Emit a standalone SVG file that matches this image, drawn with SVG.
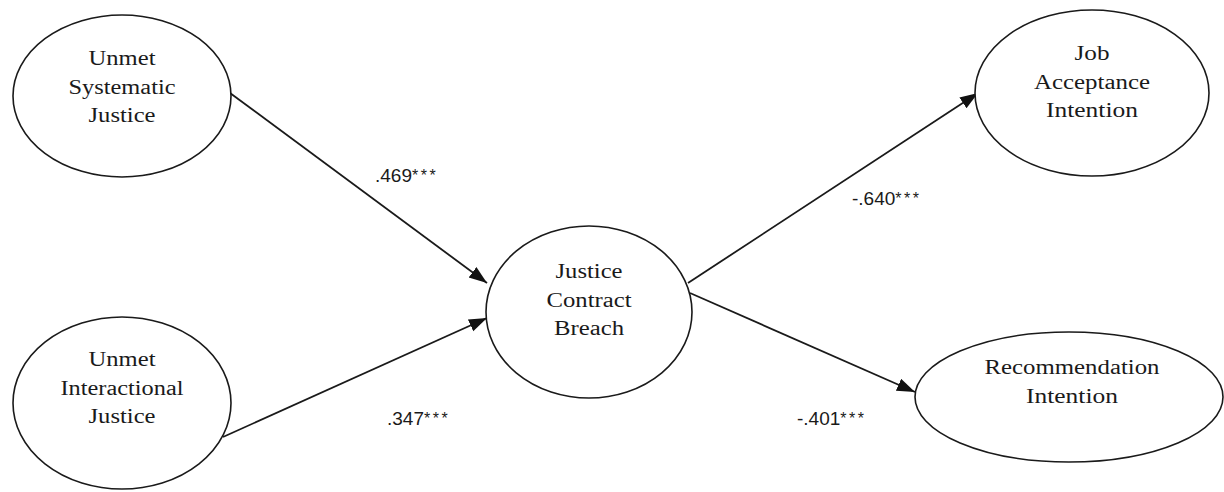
<svg xmlns="http://www.w3.org/2000/svg" width="1224" height="492" viewBox="0 0 1224 492">
<defs>
<style>
.node ellipse{fill:#fff;stroke:#1a1a1a;stroke-width:1.6}
.node text{font-family:"Liberation Serif","Times New Roman",serif;font-size:20px;fill:#1a1a1a;text-anchor:middle}
.conn line{stroke:#1a1a1a;stroke-width:1.8}
.lbl{font-family:"Liberation Sans",Arial,sans-serif;font-size:19px;fill:#1a1a1a}
.ast{font-size:16px;letter-spacing:2.5px}
</style>
<marker id="ah" markerUnits="userSpaceOnUse" markerWidth="20" markerHeight="14" refX="18" refY="6.5" orient="auto">
<path d="M0,0 L18,6.5 L0,13 z" fill="#111"/>
</marker>
</defs>
<rect width="1224" height="492" fill="#fff"/>
<g id="connectors" class="conn">
<line x1="230" y1="93" x2="487" y2="283" marker-end="url(#ah)"/>
<line x1="223" y1="437" x2="487" y2="318" marker-end="url(#ah)"/>
<line x1="688" y1="283" x2="978" y2="93" marker-end="url(#ah)"/>
<line x1="690" y1="293" x2="915" y2="392" marker-end="url(#ah)"/>
</g>
<g id="n1" class="node">
<ellipse cx="122" cy="96" rx="109" ry="81"/>
<text x="122" y="65" textLength="67" lengthAdjust="spacingAndGlyphs">Unmet</text>
<text x="122" y="94" textLength="107" lengthAdjust="spacingAndGlyphs">Systematic</text>
<text x="122" y="122" textLength="67" lengthAdjust="spacingAndGlyphs">Justice</text>
</g>
<g id="n2" class="node">
<ellipse cx="122" cy="403" rx="109" ry="86"/>
<text x="122" y="366" textLength="67" lengthAdjust="spacingAndGlyphs">Unmet</text>
<text x="122" y="395" textLength="123" lengthAdjust="spacingAndGlyphs">Interactional</text>
<text x="122" y="423" textLength="67" lengthAdjust="spacingAndGlyphs">Justice</text>
</g>
<g id="n3" class="node">
<ellipse cx="589" cy="312" rx="103" ry="86"/>
<text x="589" y="278" textLength="67" lengthAdjust="spacingAndGlyphs">Justice</text>
<text x="589" y="307" textLength="85" lengthAdjust="spacingAndGlyphs">Contract</text>
<text x="589" y="335" textLength="70" lengthAdjust="spacingAndGlyphs">Breach</text>
</g>
<g id="n4" class="node">
<ellipse cx="1092" cy="93" rx="117" ry="83"/>
<text x="1092" y="60" textLength="35" lengthAdjust="spacingAndGlyphs">Job</text>
<text x="1092" y="89" textLength="116" lengthAdjust="spacingAndGlyphs">Acceptance</text>
<text x="1092" y="117" textLength="92" lengthAdjust="spacingAndGlyphs">Intention</text>
</g>
<g id="n5" class="node">
<ellipse cx="1069" cy="397" rx="154" ry="65"/>
<text x="1072" y="374" textLength="175" lengthAdjust="spacingAndGlyphs">Recommendation</text>
<text x="1072" y="403" textLength="92" lengthAdjust="spacingAndGlyphs">Intention</text>
</g>
<g id="labels">
<text class="lbl" x="375" y="182">.469<tspan class="ast" dy="-1">***</tspan></text>
<text class="lbl" x="387" y="425">.347<tspan class="ast" dy="-1">***</tspan></text>
<text class="lbl" x="852" y="205">-.640<tspan class="ast" dy="-1">***</tspan></text>
<text class="lbl" x="797" y="425">-.401<tspan class="ast" dy="-1">***</tspan></text>
</g>
</svg>
